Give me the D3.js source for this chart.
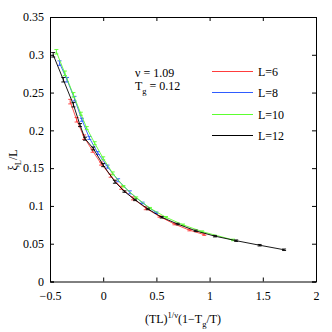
<!DOCTYPE html>
<html>
<head>
<meta charset="utf-8">
<script src="https://cdn.jsdelivr.net/npm/d3@7"></script>
<style>
  body { margin: 0; background: #fff; }
  text { font-family: "Liberation Serif", "DejaVu Serif", serif; fill: #000; }
</style>
</head>
<body>
<div id="chart"></div>
<script>
// scaling collapse, one series per system size
const labels = ["L=6", "L=8", "L=10", "L=12"];
const colors = ["#ff3c3c", "#2f5cff", "#5cff2f", "#000000"];

const x6  = [-0.31, -0.25, -0.18, -0.10, -0.02, 0.07, 0.17, 0.28, 0.40, 0.53, 0.67, 0.81, 0.95];
const y6  = [0.238, 0.214, 0.191, 0.173, 0.156, 0.140, 0.124, 0.110, 0.097, 0.086, 0.076, 0.068, 0.062];
const e6  = [0.003, 0.003, 0.003, 0.002, 0.002, 0.002, 0.002, 0.002, 0.002, 0.001, 0.001, 0.001, 0.001];

const x8  = [-0.41, -0.34, -0.27, -0.20, -0.13, -0.05, 0.04, 0.14, 0.25, 0.37, 0.50];
const y8  = [0.289, 0.267, 0.242, 0.214, 0.190, 0.170, 0.152, 0.134, 0.118, 0.104, 0.091];
const e8  = [0.003, 0.003, 0.003, 0.002, 0.002, 0.002, 0.002, 0.002, 0.002, 0.001, 0.001];

const x10 = [-0.44, -0.36, -0.28, -0.21, -0.155, -0.08, 0.0, 0.09, 0.19, 0.31, 0.44, 0.59, 0.75, 0.93, 1.22];
const y10 = [0.304, 0.2755, 0.247, 0.222, 0.203, 0.183, 0.163, 0.143, 0.126, 0.111, 0.097, 0.085, 0.075, 0.066, 0.055];
const e10 = [0.003, 0.003, 0.003, 0.002, 0.002, 0.002, 0.002, 0.002, 0.001, 0.001, 0.001, 0.001, 0.001, 0.001, 0.001];

const x12 = [-0.47, -0.375, -0.28, -0.218, -0.171, -0.093, 0.0, 0.11, 0.20, 0.30, 0.42, 0.55, 0.70, 0.87, 1.05, 1.25, 1.47, 1.70];
const y12 = [0.300, 0.267, 0.234, 0.207, 0.189, 0.176, 0.154, 0.132, 0.119, 0.108, 0.096, 0.085, 0.076, 0.067, 0.060, 0.054, 0.048, 0.042];
const e12 = [0.003, 0.003, 0.003, 0.002, 0.002, 0.002, 0.002, 0.002, 0.001, 0.001, 0.001, 0.001, 0.001, 0.001, 0.001, 0.001, 0.001, 0.001];

const xTicks = [-0.5, 0, 0.5, 1, 1.5, 2];
const yTicks = [0, 0.05, 0.1, 0.15, 0.2, 0.25, 0.3, 0.35];

const series = [
  {x: x6, y: y6, e: e6},
  {x: x8, y: y8, e: e8},
  {x: x10, y: y10, e: e10},
  {x: x12, y: y12, e: e12}
];

const width = 332, height = 332;
const margin = {left: 50, right: 16, top: 17, bottom: 50.5};

const svg = d3.select("#chart").append("svg")
  .attr("width", width)
  .attr("height", height);

const x = d3.scaleLinear().domain([-0.5, 2]).range([margin.left, width - margin.right]);
const y = d3.scaleLinear().domain([0, 0.35]).range([height - margin.bottom, margin.top]);

// curves + error bars
const line = d3.line().x(d => x(d[0])).y(d => y(d[1]));
series.forEach((s, k) => {
  const pts = s.x.map((v, i) => [v, s.y[i], s.e[i]]);
  const g = svg.append("g");
  g.append("path")
    .attr("d", line(pts))
    .attr("fill", "none")
    .attr("stroke", colors[k])
    .attr("stroke-width", 0.9);
  const eb = g.selectAll("g.eb").data(pts).enter().append("g");
  eb.append("line")
    .attr("x1", d => x(d[0])).attr("x2", d => x(d[0]))
    .attr("y1", d => y(d[1] - d[2])).attr("y2", d => y(d[1] + d[2]))
    .attr("stroke", colors[k]).attr("stroke-width", 0.9);
  [-1, 1].forEach(sg => {
    eb.append("line")
      .attr("x1", d => x(d[0]) - 2).attr("x2", d => x(d[0]) + 2)
      .attr("y1", d => y(d[1] + sg * d[2])).attr("y2", d => y(d[1] + sg * d[2]))
      .attr("stroke", colors[k]).attr("stroke-width", 0.9);
  });
});

// axes, matlab style: ticks inward on all four sides
const tk = 4;
const axB = svg.append("g").attr("transform", "translate(0," + y(0) + ")")
  .call(d3.axisBottom(x).tickValues(xTicks).tickSize(-tk).tickPadding(8)
    .tickFormat(d => d < 0 ? "\u2212" + Math.abs(d) : d));
const axT = svg.append("g").attr("transform", "translate(0," + y(0.35) + ")")
  .call(d3.axisTop(x).tickValues(xTicks).tickSize(-tk).tickFormat(""));
const axL = svg.append("g").attr("transform", "translate(" + x(-0.5) + ",0)")
  .call(d3.axisLeft(y).tickValues(yTicks).tickSize(-tk).tickPadding(6)
    .tickFormat(d => d));
const axR = svg.append("g").attr("transform", "translate(" + x(2) + ",0)")
  .call(d3.axisRight(y).tickValues(yTicks).tickSize(-tk).tickFormat(""));

[axB, axT, axL, axR].forEach(a => {
  a.select(".domain").attr("stroke", "#000").attr("stroke-width", 1);
  a.selectAll(".tick line").attr("stroke", "#000");
  a.selectAll("text").style("font-family", "Liberation Serif").style("font-size", "12px").attr("fill", "#000");
});
axB.selectAll("text").attr("dy", "0.9em");

// axis labels
const xl = svg.append("text")
  .attr("x", 183).attr("y", 323)
  .attr("text-anchor", "middle")
  .style("font-size", "12px");
xl.append("tspan").text("(TL)");
xl.append("tspan").attr("dy", -5).style("font-size", "8.5px").text("1/\u03bd");
xl.append("tspan").attr("dy", 5).text("(1\u2212T");
xl.append("tspan").attr("dy", 4).style("font-size", "8.5px").text("g");
xl.append("tspan").attr("dy", -4).text("/T)");

const yl = svg.append("text")
  .attr("transform", "translate(17,160) rotate(-90)")
  .attr("text-anchor", "middle")
  .style("font-size", "12px");
yl.append("tspan").text("\u03be");
yl.append("tspan").attr("dy", 4).style("font-size", "8.5px").text("L");
yl.append("tspan").attr("dy", -4).text("/L");

// parameter text
svg.append("text").attr("x", 135).attr("y", 77).style("font-size", "12px").text("\u03bd = 1.09");
const tg = svg.append("text").attr("x", 135).attr("y", 90).style("font-size", "12px");
tg.append("tspan").text("T");
tg.append("tspan").attr("dy", 4).style("font-size", "8.5px").text("g");
tg.append("tspan").attr("dy", -4).text(" = 0.12");

// legend
const legY = [71.5, 92.5, 114.5, 135.5];
const leg = svg.append("g");
labels.forEach((lab, k) => {
  leg.append("line")
    .attr("x1", 212).attr("x2", 253)
    .attr("y1", legY[k]).attr("y2", legY[k])
    .attr("stroke", colors[k]).attr("stroke-width", 1);
  leg.append("text")
    .attr("x", 258).attr("y", legY[k] + 4)
    .style("font-size", "12px")
    .text(lab);
});
</script>
</body>
</html>
